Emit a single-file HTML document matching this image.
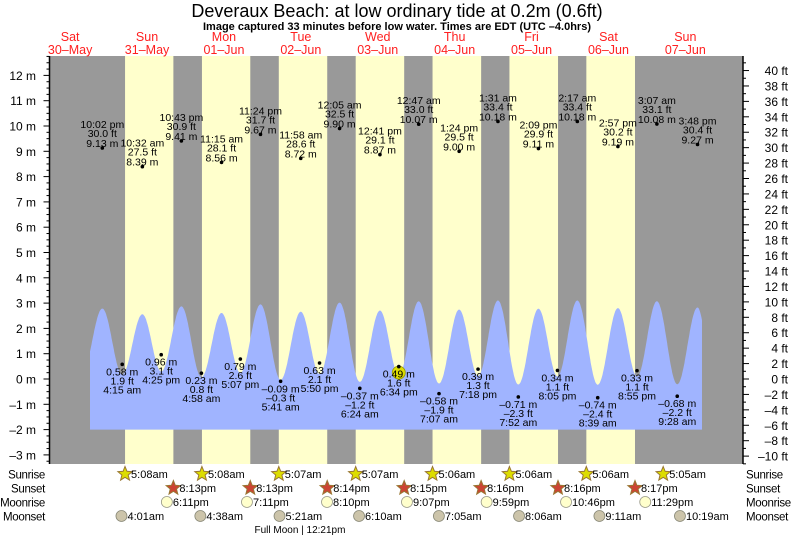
<!DOCTYPE html>
<html><head><meta charset="utf-8"><style>
html,body{margin:0;padding:0;background:#fff;}
svg{display:block;font-family:"Liberation Sans",sans-serif;}
</style></head><body>
<svg id="chart" width="793" height="538" viewBox="0 0 793 538" xmlns="http://www.w3.org/2000/svg">
<text x="397" y="17" text-anchor="middle" font-size="18" fill="#000">Deveraux Beach: at low  ordinary tide at 0.2m (0.6ft)</text>
<text x="397" y="30" text-anchor="middle" font-size="11" font-weight="bold" fill="#000">Image captured 33 minutes before low water. Times are EDT (UTC –4.0hrs)</text>
<g id="g"></g>
</svg>
<script>
const dayNames = ["Sat","Sun","Mon","Tue","Wed","Thu","Fri","Sat","Sun"];
const dayDates = ["30–May","31–May","01–Jun","02–Jun","03–Jun","04–Jun","05–Jun","06–Jun","07–Jun"];
const extDay = [0,1,1,1,1,2,2,2,2,3,3,3,4,4,4,4,5,5,5,5,6,6,6,6,7,7,7,7,8,8,8];
const extTime = ["10:02 pm","4:15 am","10:32 am","4:25 pm","10:43 pm","4:58 am","11:15 am","5:07 pm","11:24 pm","5:41 am","11:58 am","5:50 pm","12:05 am","6:24 am","12:41 pm","6:34 pm","12:47 am","7:07 am","1:24 pm","7:18 pm","1:31 am","7:52 am","2:09 pm","8:05 pm","2:17 am","8:39 am","2:57 pm","8:55 pm","3:07 am","9:28 am","3:48 pm"];
const extM = [9.13,0.58,8.39,0.96,9.41,0.23,8.56,0.79,9.67,-0.09,8.72,0.63,9.90,-0.37,8.87,0.49,10.07,-0.58,9.00,0.39,10.18,-0.71,9.11,0.34,10.18,-0.74,9.19,0.33,10.08,-0.68,9.27];
const extFt = [30.0,1.9,27.5,3.1,30.9,0.8,28.1,2.6,31.7,-0.3,28.6,2.1,32.5,-1.2,29.1,1.6,33.0,-1.9,29.5,1.3,33.4,-2.3,29.9,1.1,33.4,-2.4,30.2,1.1,33.1,-2.2,30.4];
const prevLow = {day:0, time:"3:50 pm", m:0.98};
const nextLow = {day:8, time:"8:30 pm", m:0.98};
const curveStart = {day:0, time:"6:12 pm"};
const curveEnd = {day:8, time:"5:12 pm"};
const nowIndex = 15;
const sunriseDay = [1,2,3,4,5,6,7,8];
const sunriseTime = ["5:08am","5:08am","5:07am","5:07am","5:06am","5:06am","5:06am","5:05am"];
const sunsetDay = [1,2,3,4,5,6,7];
const sunsetTime = ["8:13pm","8:13pm","8:14pm","8:15pm","8:16pm","8:16pm","8:17pm"];
const moonriseDay = [1,2,3,4,5,6,7];
const moonriseTime = ["6:11pm","7:11pm","8:10pm","9:07pm","9:59pm","10:46pm","11:29pm"];
const moonsetDay = [1,2,3,4,5,6,7,8];
const moonsetTime = ["4:01am","4:38am","5:21am","6:10am","7:05am","8:06am","9:11am","10:19am"];
const fullMoon = {day:3, time:"12:21pm"};
const mTicks = [-3,-2,-1,0,1,2,3,4,5,6,7,8,9,10,11,12];
const ftTicks = [-10,-8,-6,-4,-2,0,2,4,6,8,10,12,14,16,18,20,22,24,26,28,30,32,34,36,38,40];

const NS="http://www.w3.org/2000/svg";
const g=document.getElementById('g');
const X0=31.7, DW=76.9, PL=49.5, PR=743, PT=56, PB=464;
function xOfDay(d){return X0+d*DW;}
function yOfM(m){return 379-m*25.3;}
function hrs(s){const t=s.trim().match(/(\d+):(\d+)\s*(am|pm)/);let h=+t[1]%12;if(t[3]==='pm')h+=12;return h+ +t[2]/60;}
function dayPos(day,time){return day+hrs(time)/24;}
function mk(tag,attrs,parent){const e=document.createElementNS(NS,tag);for(const k in attrs)e.setAttribute(k,attrs[k]);(parent||g).appendChild(e);return e;}
function fmt(v,d){const s=Math.abs(v).toFixed(d);return (v<0?'–':'')+s;}

let e=mk('rect',{x:PL,y:PT,width:PR-PL,height:PB-PT,fill:'#999999'});


for(let i=0;i<sunsetDay.length;i++){
  const x1=xOfDay(dayPos(sunriseDay[i],sunriseTime[i])), x2=xOfDay(dayPos(sunsetDay[i],sunsetTime[i]));
  e=mk('rect',{x:x1,y:PT,width:x2-x1,height:PB-PT,fill:'#ffffcc'});
  
  
}
const pts=[{d:dayPos(prevLow.day,prevLow.time),v:prevLow.m}];
for(let i=0;i<extM.length;i++)pts.push({d:dayPos(extDay[i],extTime[i]),v:extM[i]});
pts.push({d:dayPos(nextLow.day,nextLow.time),v:nextLow.m});
function tideAt(d){for(let i=0;i<pts.length-1;i++){if(d>=pts[i].d&&d<=pts[i+1].d){const f=(d-pts[i].d)/(pts[i+1].d-pts[i].d);return (pts[i].v+(pts[i+1].v-pts[i].v)*(1-Math.cos(Math.PI*f))/2)/3.28;}}return 0;}
const ds=dayPos(curveStart.day,curveStart.time), de=dayPos(curveEnd.day,curveEnd.time);
let p='M'+xOfDay(ds).toFixed(1)+','+yOfM(-2);
for(let d=ds;d<=de;d+=0.005)p+=' L'+xOfDay(d).toFixed(1)+','+yOfM(tideAt(d)).toFixed(1);
p+=' L'+xOfDay(de).toFixed(1)+','+yOfM(tideAt(de)).toFixed(1)+' L'+xOfDay(de).toFixed(1)+','+yOfM(-2)+' Z';
e=mk('path',{d:p,fill:'#a0b4ff'});


{const x=xOfDay(dayPos(extDay[nowIndex],extTime[nowIndex]));
e=mk('circle',{cx:x,cy:yOfM(extM[nowIndex])+6,r:6.5,fill:'#dddd00',stroke:'#999900','stroke-width':0.8});

}
for(let i=0;i<extM.length;i++){
  const x=xOfDay(dayPos(extDay[i],extTime[i])), y=yOfM(extM[i]);
  const high=extM[i]>5;
  e=mk('circle',{cx:x,cy:y,r:1.8,fill:'#000'});
  
  
  const lines=high?[extTime[i],fmt(extFt[i],1)+' ft',fmt(extM[i],2)+' m']:[fmt(extM[i],2)+' m',fmt(extFt[i],1)+' ft',extTime[i]];
  const offs=high?[-24,-15,-5]:[7,16,25];
  for(let k=0;k<3;k++){
    e=mk('text',{x:x,y:y+offs[k]+4,'text-anchor':'middle','font-size':10.5,fill:'#000'});
    e.textContent=lines[k];
    
    
  }
}
e=mk('line',{x1:PL,y1:PT,x2:PL,y2:PB,stroke:'#000','stroke-width':1.5});


e=mk('line',{x1:PR,y1:PT,x2:PR,y2:PB,stroke:'#000','stroke-width':1.5});


for(let m=-3.25;m<=12.76;m+=0.25){const y=yOfM(m);if(y<PT||y>PB)continue;const major=Math.abs(m-Math.round(m))<0.01;
  e=mk('line',{x1:PL-(major?6:3),y1:y,x2:PL,y2:y,stroke:'#000','stroke-width':1});
  
  }
for(const m of mTicks){e=mk('text',{x:36,y:yOfM(m)+4.5,'text-anchor':'end','font-size':12,fill:'#000'});e.textContent=fmt(m,0)+' m';
  
  }
for(let f=-11;f<=41;f++){const y=yOfM(f*0.3048);if(y<PT||y>PB)continue;const major=f%2===0;
  e=mk('line',{x1:PR,y1:y,x2:PR+(major?6:3),y2:y,stroke:'#000','stroke-width':1});
  
  }
for(const f of ftTicks){e=mk('text',{x:788,y:yOfM(f*0.3048)+4.5,'text-anchor':'end','font-size':12,fill:'#000'});e.textContent=fmt(f,0)+' ft';
  
  }
for(let i=0;i<dayNames.length;i++){const x=xOfDay(i+0.5);
  e=mk('text',{x:x,y:41,'text-anchor':'middle','font-size':12.5,fill:'#ff2020'});e.textContent=dayNames[i];
  
  
  e=mk('text',{x:x,y:54,'text-anchor':'middle','font-size':12.5,fill:'#ff2020'});e.textContent=dayDates[i];
  
  }
const rows=[["Sunrise",474],["Sunset",488],["Moonrise",502],["Moonset",516]];
for(const r of rows){
  e=mk('text',{x:45,y:r[1]+4.5,'text-anchor':'end','font-size':11.5,fill:'#000','letter-spacing':'-0.3'});e.textContent=r[0];
  
  
  e=mk('text',{x:746,y:r[1]+4.5,'font-size':11.5,fill:'#000','letter-spacing':'-0.3'});e.textContent=r[0];
  
  }
function star(cx,cy,fill,stroke){let s='';for(let k=0;k<10;k++){const r=k%2?3.3:7.5,a=-Math.PI/2+k*Math.PI/5;s+=(cx+r*Math.cos(a)).toFixed(1)+','+(cy+r*Math.sin(a)).toFixed(1)+' ';}
  return mk('polygon',{points:s,fill:fill,stroke:stroke,'stroke-width':1});}
function rowItem(day,time,y,kind){const x=xOfDay(dayPos(day,time));
  if(kind==='sunrise'){e=star(x,y,'#dddd00','#997733');}
  else if(kind==='sunset'){e=star(x,y,'#cc4433','#997733');}
  else if(kind==='moonrise'){e=mk('circle',{cx:x,cy:y,r:5.5,fill:'#ffffcc',stroke:'#999988','stroke-width':0.8});}
  else {e=mk('circle',{cx:x,cy:y,r:5.5,fill:'#ccc4aa',stroke:'#888877','stroke-width':0.8});}
  e=mk('text',{x:x+6,y:y+4,'font-size':11,fill:'#000'});e.textContent=time;
  
  }
for(let i=0;i<sunriseDay.length;i++)rowItem(sunriseDay[i],sunriseTime[i],474,'sunrise');
for(let i=0;i<sunsetDay.length;i++)rowItem(sunsetDay[i],sunsetTime[i],488,'sunset');
for(let i=0;i<moonriseDay.length;i++)rowItem(moonriseDay[i],moonriseTime[i],502,'moonrise');
for(let i=0;i<moonsetDay.length;i++)rowItem(moonsetDay[i],moonsetTime[i],516,'moonset');
e=mk('text',{x:xOfDay(dayPos(fullMoon.day,fullMoon.time))-2,y:533,'text-anchor':'middle','font-size':10,fill:'#000'});
e.textContent='Full Moon | '+fullMoon.time;


</script>
</body></html>
